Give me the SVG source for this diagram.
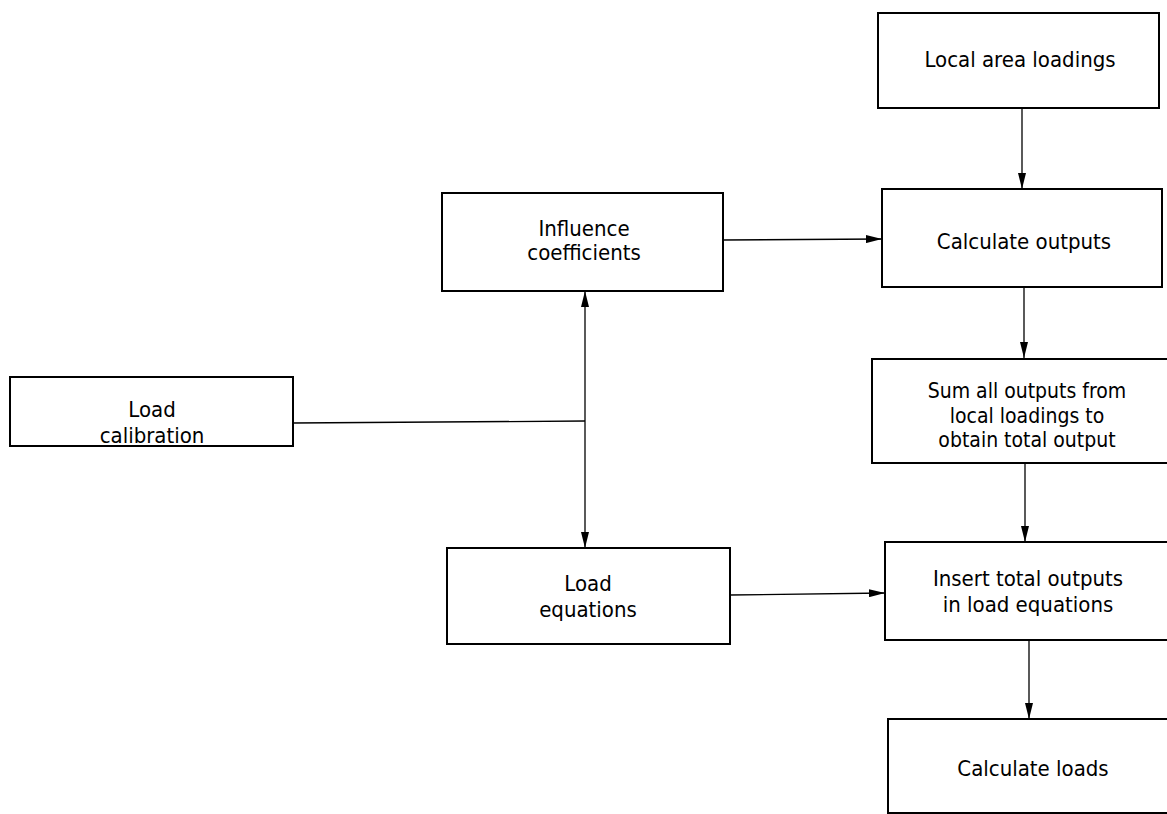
<svg xmlns="http://www.w3.org/2000/svg" width="1167" height="814" viewBox="0 0 1167 814">
<style>
.box{fill:#fff;stroke:#000;stroke-width:2}
.t{font-family:"DejaVu Sans Condensed","DejaVu Sans",sans-serif;font-size:22px;fill:#000;text-anchor:middle}
.s{font-size:21px}
.c{stroke:#000;stroke-width:1.3;fill:none}
</style>
<defs>
<marker id="ah" viewBox="0 0 16 8" refX="16" refY="4" markerWidth="16" markerHeight="8" markerUnits="userSpaceOnUse" orient="auto-start-reverse">
<path d="M0,0 L16,4 L0,8 Z" fill="#000"/>
</marker>
</defs>
<rect width="1167" height="814" fill="#fff"/>
<g id="connectors">
<line class="c" x1="1022" y1="108" x2="1022" y2="189" marker-end="url(#ah)"/>
<line class="c" x1="1024" y1="287" x2="1024" y2="358" marker-end="url(#ah)"/>
<line class="c" x1="1025" y1="463" x2="1025" y2="542" marker-end="url(#ah)"/>
<line class="c" x1="1029" y1="640" x2="1029" y2="719" marker-end="url(#ah)"/>
<line class="c" x1="723" y1="240" x2="882" y2="239" marker-end="url(#ah)"/>
<line class="c" x1="730" y1="595" x2="885" y2="593" marker-end="url(#ah)"/>
<line class="c" x1="293" y1="423" x2="585" y2="421"/>
<line class="c" x1="585" y1="291" x2="585" y2="548" marker-start="url(#ah)" marker-end="url(#ah)"/>
</g>
<g id="n-local">
<rect class="box" x="878" y="13" width="281" height="95"/>
<text class="t" x="1020" y="67">Local area loadings</text>
</g>
<g id="n-influence">
<rect class="box" x="442" y="193" width="281" height="98"/>
<text class="t" x="584" y="236">Influence</text>
<text class="t" x="584" y="260">coefficients</text>
</g>
<g id="n-calcout">
<rect class="box" x="882" y="189" width="280" height="98"/>
<text class="t" x="1024" y="249">Calculate outputs</text>
</g>
<g id="n-calib">
<rect class="box" x="10" y="377" width="283" height="69"/>
<text class="t" x="152" y="417">Load</text>
<text class="t" x="152" y="443">calibration</text>
</g>
<g id="n-sum">
<rect class="box" x="872" y="359" width="299" height="104"/>
<text class="t s" x="1027" y="398">Sum all outputs from</text>
<text class="t s" x="1027" y="422.5">local loadings to</text>
<text class="t s" x="1027" y="447">obtain total output</text>
</g>
<g id="n-loadeq">
<rect class="box" x="447" y="548" width="283" height="96"/>
<text class="t" x="588" y="591">Load</text>
<text class="t" x="588" y="617">equations</text>
</g>
<g id="n-insert">
<rect class="box" x="885" y="542" width="286" height="98"/>
<text class="t" x="1028" y="586">Insert total outputs</text>
<text class="t" x="1028" y="612">in load equations</text>
</g>
<g id="n-calcloads">
<rect class="box" x="888" y="719" width="283" height="94"/>
<text class="t" x="1033" y="776">Calculate loads</text>
</g>
</svg>
